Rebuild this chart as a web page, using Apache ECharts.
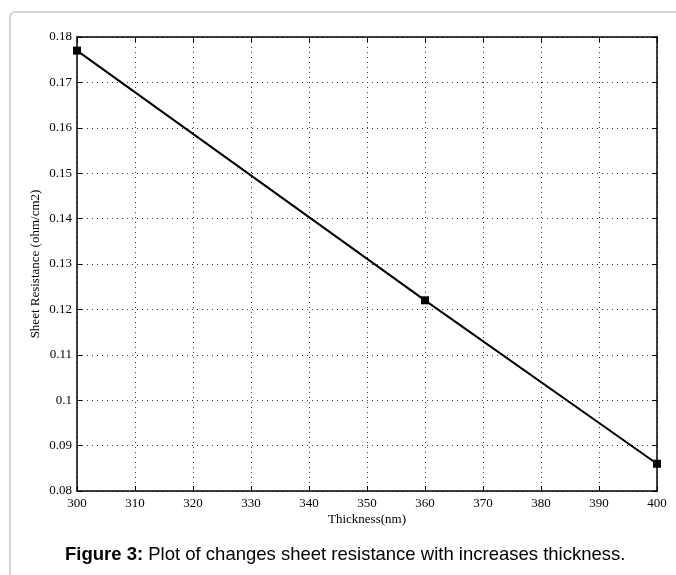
<!DOCTYPE html>
<html>
<head>
<meta charset="utf-8">
<script src="https://cdn.jsdelivr.net/npm/echarts@6/dist/echarts.min.js"></script>
<style>html,body{margin:0;padding:0;background:#fff;}#c{width:676px;height:575px;}</style>
</head>
<body>
<div id="c"></div>
<script>
var thickness = [300, 360, 400];
var resistance = [0.177, 0.122, 0.086];
var xTicks = [300, 310, 320, 330, 340, 350, 360, 370, 380, 390, 400];
var yTicks = [0.08, 0.09, 0.1, 0.11, 0.12, 0.13, 0.14, 0.15, 0.16, 0.17, 0.18];

var chart = echarts.init(document.getElementById('c'));
var serif = '"Liberation Serif", "DejaVu Serif", serif';
var gridLine = {show: true, lineStyle: {color: '#333', type: [1, 4], width: 1}};
var axLine = {show: true, lineStyle: {color: '#000', width: 1.5}};
var ticks = {show: true, inside: true, length: 5, lineStyle: {color: '#000', width: 1}};
var data = thickness.map(function (t, i) { return [t, resistance[i]]; });

chart.setOption({
  animation: false,
  backgroundColor: '#fff',
  grid: {left: 77, right: 19, top: 37, bottom: 84, containLabel: false},
  xAxis: [{
    type: 'value', min: xTicks[0], max: xTicks[xTicks.length - 1], interval: 10,
    position: 'bottom',
    name: 'Thickness(nm)', nameLocation: 'middle', nameGap: 22, nameMoveOverlap: false,
    nameTextStyle: {fontFamily: serif, fontSize: 13, color: '#000'},
    axisLine: axLine, axisTick: ticks,
    axisLabel: {fontFamily: serif, fontSize: 13, color: '#000', margin: 6},
    splitLine: gridLine
  }, {
    type: 'value', min: xTicks[0], max: xTicks[xTicks.length - 1], interval: 10,
    position: 'top', axisLine: axLine, axisTick: ticks,
    axisLabel: {show: false}, splitLine: {show: false}
  }],
  yAxis: [{
    type: 'value', min: yTicks[0], max: yTicks[yTicks.length - 1], interval: 0.01,
    position: 'left',
    name: 'Sheet Resistance (ohm/cm2)', nameLocation: 'middle', nameGap: 35, nameMoveOverlap: false,
    nameTextStyle: {fontFamily: serif, fontSize: 13, color: '#000'},
    axisLine: axLine, axisTick: ticks,
    axisLabel: {fontFamily: serif, fontSize: 13, color: '#000', margin: 5,
      formatter: function (v) { return String(+v.toFixed(2)); }},
    splitLine: gridLine
  }, {
    type: 'value', min: yTicks[0], max: yTicks[yTicks.length - 1], interval: 0.01,
    position: 'right', axisLine: axLine, axisTick: ticks,
    axisLabel: {show: false}, splitLine: {show: false}
  }],
  series: [{
    type: 'line', data: data, xAxisIndex: 0, yAxisIndex: 0,
    symbol: 'rect', symbolSize: 8,
    lineStyle: {color: '#000', width: 2},
    itemStyle: {color: '#000'},
    clip: false
  }],
  graphic: [{
    type: 'rect', z: -1, silent: true,
    shape: {x: 10, y: 12, width: 720, height: 620, r: 5},
    style: {fill: 'none', stroke: '#c8c8c8', lineWidth: 1.5}
  }, {
    type: 'text', left: 65, top: 545,
    style: {
      rich: {
        b: {fontFamily: '"Liberation Sans", Arial, sans-serif', fontSize: 18.5, fontWeight: 'bold', fill: '#000'},
        n: {fontFamily: '"Liberation Sans", Arial, sans-serif', fontSize: 18.5, fill: '#000'}
      },
      text: '{b|Figure 3:}{n| Plot of changes sheet resistance with increases thickness.}'
    }
  }]
});
</script>
</body>
</html>
